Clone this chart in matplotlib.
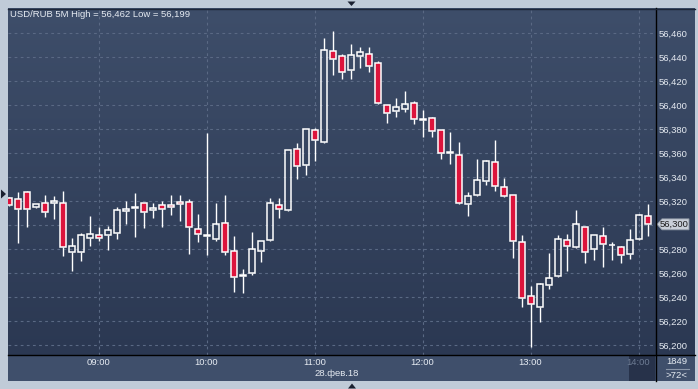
import numpy as np
import matplotlib
matplotlib.use("Agg")
import matplotlib.pyplot as plt
from matplotlib.patches import Rectangle, Polygon

plt.rcParams['font.family'] = ['Liberation Sans', 'DejaVu Sans']

# USD/RUB, 5 minute candles, 28.02.18 from 08:10 (72 bars)
opens = [56.3225, 56.3217, 56.3275, 56.3150, 56.3183, 56.3183, 56.3183, 56.2775, 56.2775, 56.2892,
         56.2917, 56.2917, 56.2933, 56.3117, 56.3144, 56.3183, 56.3125, 56.3167, 56.3167, 56.3192,
         56.3192, 56.2967, 56.2911, 56.2889, 56.3017, 56.2783, 56.2580, 56.2600, 56.2783, 56.2875,
         56.3167, 56.3125, 56.3633, 56.3500, 56.3792, 56.3697, 56.4450, 56.4408, 56.4292, 56.4408,
         56.4425, 56.4350, 56.4000, 56.3950, 56.3967, 56.4017, 56.3875, 56.3892, 56.3792, 56.3605,
         56.3583, 56.3175, 56.3250, 56.3367, 56.3525, 56.3317, 56.3250, 56.2858, 56.2408, 56.2317,
         56.2500, 56.2575, 56.2875, 56.2817, 56.2983, 56.2800, 56.2908, 56.2832, 56.2817, 56.2758,
         56.2883, 56.3075]
highs = [56.3240, 56.3277, 56.3285, 56.3180, 56.3253, 56.3244, 56.3286, 56.2892, 56.2938, 56.3078,
         56.2986, 56.2994, 56.3153, 56.3203, 56.3269, 56.3185, 56.3186, 56.3203, 56.3253, 56.3253,
         56.3219, 56.3094, 56.3769, 56.3186, 56.3253, 56.2911, 56.2636, 56.2944, 56.2870, 56.3228,
         56.3228, 56.3628, 56.3683, 56.3805, 56.3808, 56.4561, 56.4619, 56.4425, 56.4511, 56.4486,
         56.4486, 56.4367, 56.4005, 56.4058, 56.4119, 56.4033, 56.3958, 56.3900, 56.3795, 56.3775,
         56.3692, 56.3275, 56.3550, 56.3542, 56.3708, 56.3392, 56.3253, 56.2917, 56.2492, 56.2517,
         56.2767, 56.2917, 56.2925, 56.3125, 56.2985, 56.2920, 56.2983, 56.2858, 56.2828, 56.2967,
         56.3094, 56.3175]
lows = [56.3160, 56.2855, 56.2983, 56.3145, 56.3072, 56.3052, 56.2744, 56.2622, 56.2705, 56.2828,
        56.2872, 56.2794, 56.2889, 56.3011, 56.2905, 56.2980, 56.3063, 56.2988, 56.3088, 56.3038,
        56.2758, 56.2863, 56.2755, 56.2872, 56.2755, 56.2444, 56.2438, 56.2583, 56.2697, 56.2870,
        56.3063, 56.3120, 56.3383, 56.3417, 56.3533, 56.3688, 56.4255, 56.4222, 56.4222, 56.4313,
        56.4275, 56.4008, 56.3850, 56.3905, 56.3942, 56.3842, 56.3740, 56.3738, 56.3550, 56.3508,
        56.3180, 56.3075, 56.3248, 56.3333, 56.3283, 56.3240, 56.2725, 56.2317, 56.1990, 56.2192,
        56.2472, 56.2567, 56.2622, 56.2815, 56.2683, 56.2708, 56.2650, 56.2707, 56.2683, 56.2717,
        56.2880, 56.2908]
closes = [56.3167, 56.3138, 56.3138, 56.3175, 56.3113, 56.3200, 56.2817, 56.2825, 56.2917, 56.2925,
          56.2892, 56.2958, 56.3125, 56.3133, 56.3150, 56.3108, 56.3142, 56.3133, 56.3150, 56.3175,
          56.2983, 56.2925, 56.2918, 56.3008, 56.2775, 56.2567, 56.2588, 56.2800, 56.2867, 56.3183,
          56.3133, 56.3625, 56.3492, 56.3800, 56.3708, 56.4458, 56.4388, 56.4275, 56.4419, 56.4442,
          56.4325, 56.4017, 56.3933, 56.3983, 56.4008, 56.3883, 56.3883, 56.3783, 56.3600, 56.3613,
          56.3183, 56.3242, 56.3375, 56.3533, 56.3325, 56.3242, 56.2867, 56.2392, 56.2342, 56.2508,
          56.2558, 56.2883, 56.2825, 56.3008, 56.2775, 56.2917, 56.2842, 56.2838, 56.2752, 56.2875,
          56.3083, 56.3008]

time_labels = ['09:00', '10:00', '11:00', '12:00', '13:00']
time_pos = [10, 22, 34, 46, 58]
price_ticks = [56.20, 56.22, 56.24, 56.26, 56.28, 56.30, 56.32, 56.34, 56.36, 56.38, 56.40, 56.42, 56.44, 56.46]

W, H = 698, 389
FS = 6.8
TXT = '#e6ebf2'
fig = plt.figure(figsize=(W / 100, H / 100), dpi=100)
fig.patch.set_facecolor('#c0cbd8')

def fx(px):
    return px / W

def fy(py):
    return 1 - py / H

# background panels (figure pixels)
grad = np.linspace(0, 1, 256).reshape(-1, 1)
cmap = matplotlib.colors.LinearSegmentedColormap.from_list('bg', ['#3e4e6a', '#2b3852'])
bgax = fig.add_axes([fx(8), fy(355), fx(695 - 8), fy(8) - fy(355)])
bgax.imshow(grad, aspect='auto', cmap=cmap, extent=[0, 1, 0, 1])
bgax.axis('off')

bot = fig.add_axes([fx(8), fy(381), fx(695 - 8), fy(355) - fy(381)])
bot.set_facecolor('#3f4f6b')
bot.set_xticks([])
bot.set_yticks([])
for s in bot.spines.values():
    s.set_visible(False)

ax = fig.add_axes([fx(8), fy(354.7), fx(655 - 8), fy(8) - fy(354.7)])
ax.patch.set_alpha(0)
n = len(opens)
ax.set_xlim(-0.06, 71.83)
ax.set_ylim(56.1922, 56.4811)

for y in price_ticks:
    ax.axhline(y, color='#5a6984', lw=0.8, ls=(0, (2.5, 3)), zorder=1)
for x in time_pos + [70]:
    ax.axvline(x, color='#5a6984', lw=0.8, ls=(0, (2.5, 3)), zorder=1)

bw = 0.66
for i in range(n):
    o, h, l, c = opens[i], highs[i], lows[i], closes[i]
    top, bottom = max(o, c), min(o, c)
    ax.plot([i, i], [top, h], color='white', lw=1.0, zorder=2, solid_capstyle='butt')
    ax.plot([i, i], [l, bottom], color='white', lw=1.0, zorder=2, solid_capstyle='butt')
    face = '#dc143c' if c < o else 'none'
    ax.add_patch(Rectangle((i - bw / 2, bottom), bw, top - bottom, facecolor=face,
                           edgecolor='white', lw=1.1, zorder=3))

# the last price tag stands in for the 56,300 label
last = closes[-1]
ax.yaxis.tick_right()
ax.set_yticks(price_ticks)
ax.set_yticklabels(['' if abs(v - round(last, 2)) < 1e-6 else f'{v:.3f}'.replace('.', ',')
                    for v in price_ticks], color=TXT, fontsize=FS)
ax.tick_params(axis='y', length=0, pad=3)
ax.set_xticks([])
for s in ax.spines.values():
    s.set_visible(False)

# separators
fig.add_artist(plt.Line2D([fx(655.5), fx(655.5)], [fy(8), fy(381)], color='black', lw=1))
fig.add_artist(plt.Line2D([fx(8), fx(695)], [fy(355), fy(355)], color='black', lw=1))
fig.add_artist(plt.Line2D([fx(8), fx(695)], [fy(8.5), fy(8.5)], color='#1e2638', lw=1))

# title
fig.text(fx(10), fy(14.5), 'USD/RUB 5M High = 56,462 Low = 56,199', color=TXT,
         fontsize=FS, va='center', ha='left')

# time axis
for lab, p in zip(time_labels, time_pos):
    xp = 8.5 + 9 * p
    fig.text(fx(xp), fy(362.5), lab, color=TXT, fontsize=FS, ha='center', va='center')
fig.text(fx(336.5), fy(373.5), '28.фев.18', color=TXT, fontsize=FS, ha='center', va='center')
fig.add_artist(Rectangle((fx(629), fy(381)), fx(655 - 629), fy(356) - fy(381),
                         facecolor='#27324a', edgecolor='none'))
fig.text(fx(638.5), fy(362.5), '14:00', color='#6d7b93', fontsize=FS, ha='center', va='center')

# bar count box
fig.text(fx(677), fy(362), '1849', color=TXT, fontsize=FS, ha='center', va='center')
fig.add_artist(plt.Line2D([fx(666), fx(689)], [fy(368.5), fy(368.5)], color='#8a96a8', lw=0.8))
fig.text(fx(677), fy(375), '>72<', color=TXT, fontsize=FS, ha='center', va='center')

# last price tag
py = 33.3 + (56.460 - last) * 1200
tag = Polygon([(fx(657), fy(py)), (fx(662), fy(py - 5.5)), (fx(689), fy(py - 5.5)),
               (fx(689), fy(py + 5.5)), (fx(662), fy(py + 5.5))], closed=True,
              facecolor='#c9cfd8', edgecolor='#8d96a3', lw=0.6)
fig.add_artist(tag)
fig.text(fx(674.5), fy(py), f'{round(last, 2):.3f}'.replace('.', ','), color='#1c1c1c',
         fontsize=FS, ha='center', va='center')

# scroll markers
fig.add_artist(Polygon([(fx(347.5), fy(1.5)), (fx(355.5), fy(1.5)), (fx(351.5), fy(6))],
                       closed=True, facecolor='#1a2030', edgecolor='none'))
fig.add_artist(Polygon([(fx(348), fy(388.5)), (fx(356), fy(388.5)), (fx(352), fy(383.5))],
                       closed=True, facecolor='#1a2030', edgecolor='none'))
fig.add_artist(Polygon([(fx(1), fy(189.5)), (fx(1), fy(198.5)), (fx(6), fy(194))],
                       closed=True, facecolor='#1a2030', edgecolor='none'))

fig.savefig('out.png', dpi=100, facecolor=fig.get_facecolor())
